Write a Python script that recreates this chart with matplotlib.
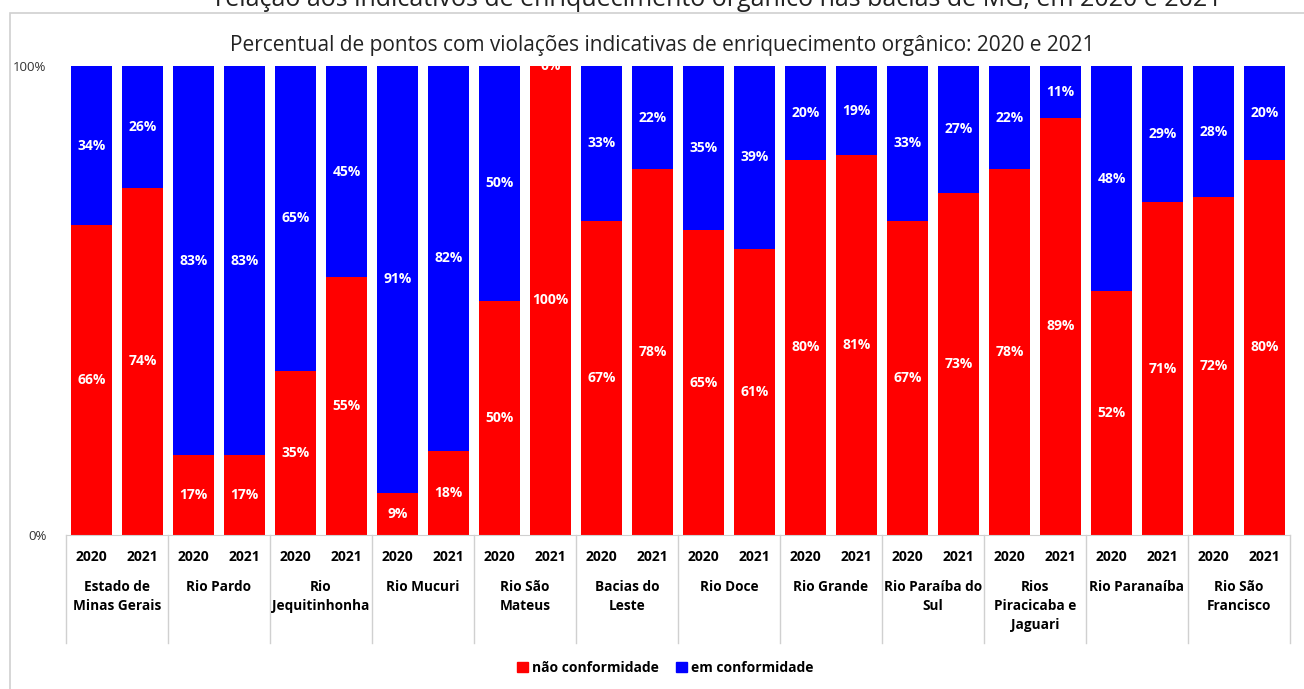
import numpy as np
import matplotlib.pyplot as plt
from matplotlib.patches import Rectangle
from matplotlib.lines import Line2D

groups = ['Estado de\nMinas Gerais', 'Rio Pardo', 'Rio\nJequitinhonha', 'Rio Mucuri',
          'Rio São\nMateus', 'Bacias do\nLeste', 'Rio Doce', 'Rio Grande',
          'Rio Paraíba do\nSul', 'Rios\nPiracicaba e\nJaguari', 'Rio Paranaíba',
          'Rio São\nFrancisco']
years = ['2020', '2021']
nao_conf = [66, 74, 17, 17, 35, 55, 9, 18, 50, 100, 67, 78,
            65, 61, 80, 81, 67, 73, 78, 89, 52, 71, 72, 80]
em_conf = [34, 26, 83, 83, 65, 45, 91, 82, 50, 0, 33, 22,
           35, 39, 20, 19, 33, 27, 22, 11, 48, 29, 28, 20]

RED = '#ff0000'
BLUE = '#0000ff'
W, H = 1304, 689
plt.rcParams['font.family'] = ['Open Sans', 'DejaVu Sans']

fig = plt.figure(figsize=(W / 100, H / 100), dpi=100)

def fx(px):
    return px / W

def fy(py):
    return 1 - py / H

# outer chart border
fig.patches.append(Rectangle((fx(10), fy(700)), fx(1310) - fx(10), fy(13) - fy(700),
                             transform=fig.transFigure, fill=False, edgecolor='#d0d0d0', lw=1.2))

# caption of the page, cut at the top edge as in the source
fig.text(fx(718), fy(0), 'relação aos indicativos de enriquecimento orgânico nas bacias de MG, em 2020 e 2021',
         ha='center', va='center', fontsize=18, color='#222222')

ax = fig.add_axes([fx(66), fy(535), fx(1290) - fx(66), fy(66) - fy(535)])
n = len(nao_conf)
x = np.arange(n)
red = np.array(nao_conf)
blue = np.array(em_conf)
ax.bar(x, red, width=0.8, color=RED)
ax.bar(x, blue, width=0.8, bottom=red, color=BLUE)

for i in range(n):
    ax.text(x[i], red[i] / 2, f'{red[i]}%', ha='center', va='center', color='white',
            fontsize=10, fontweight='bold')
    ax.text(x[i], red[i] + blue[i] / 2, f'{blue[i]}%', ha='center', va='center', color='white',
            fontsize=10, fontweight='bold', clip_on=False)

ax.set_xlim(-0.5, n - 0.5)
ax.set_ylim(0, 100)
ax.set_yticks([0, 100])
ax.set_yticklabels(['0%', '100%'], fontsize=9.5, color='#333333')
ax.tick_params(axis='y', length=0, pad=14)
ax.set_xticks([])
for s in ['top', 'right', 'left']:
    ax.spines[s].set_visible(False)
ax.spines['bottom'].set_color('#d0d0d0')

# year labels
for i in range(n):
    fig.text(fx(66) + (fx(1290) - fx(66)) * (i + 0.5) / n, fy(557), years[i % 2],
             ha='center', va='center', fontsize=10, fontweight='bold')

# group labels and separators
for g, name in enumerate(groups):
    cx = fx(66) + (fx(1290) - fx(66)) * (2 * g + 1) / n
    fig.text(cx, fy(580), name, ha='center', va='top', fontsize=9.8, fontweight='bold',
             linespacing=1.45)
for g in range(len(groups) + 1):
    sx = fx(66) + (fx(1290) - fx(66)) * (2 * g) / n
    fig.add_artist(Line2D([sx, sx], [fy(535), fy(643)], transform=fig.transFigure,
                          color='#d0d0d0', lw=1))

fig.text(fx(662), fy(45), 'Percentual de pontos com violações indicativas de enriquecimento orgânico: 2020 e 2021',
         ha='center', va='center', fontsize=15, color='#222222')

handles = [Rectangle((0, 0), 1, 1, color=RED), Rectangle((0, 0), 1, 1, color=BLUE)]
fig.legend(handles, ['não conformidade', 'em conformidade'], loc='center',
           bbox_to_anchor=(fx(665), fy(668)), ncol=2, frameon=False,
           prop={'weight': 'bold', 'size': 10}, handlelength=0.8, handleheight=0.8,
           handletextpad=0.3, columnspacing=1.2)

fig.savefig('out.png', dpi=100)
